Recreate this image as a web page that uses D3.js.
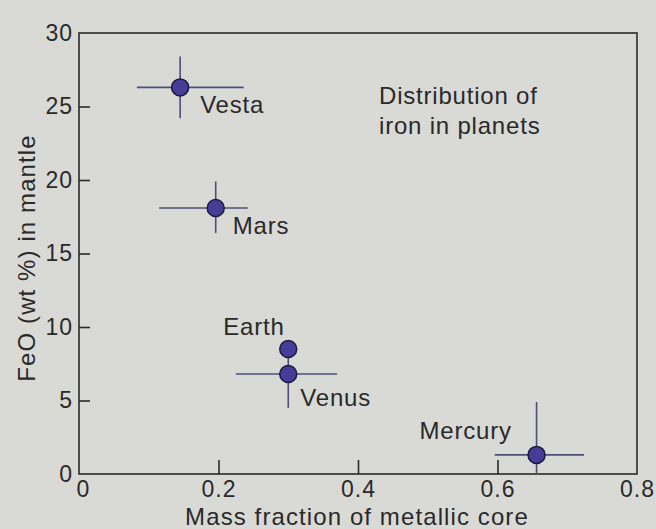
<!DOCTYPE html>
<html>
<head>
<meta charset="utf-8">
<script src="https://cdn.jsdelivr.net/npm/d3@7"></script>
<style>
  body { margin: 0; background: #d9d9d6; }
  svg { display: block; font-family: "Liberation Sans", Arial, sans-serif; }
</style>
</head>
<body>
<svg id="chart"></svg>
<script>
const planets = ["Vesta", "Mars", "Earth", "Venus", "Mercury"];
const coreFraction = [0.145, 0.196, 0.30, 0.30, 0.656];
const feo = [26.3, 18.1, 8.5, 6.8, 1.3];
const coreLow = [0.083, 0.115, null, 0.225, 0.596];
const coreHigh = [0.236, 0.242, null, 0.37, 0.724];
const feoLow = [24.2, 16.4, null, 4.5, 0];
const feoHigh = [28.4, 19.9, null, 8.3, 4.9];
const xTicks = [0, 0.2, 0.4, 0.6, 0.8];
const yTicks = [0, 5, 10, 15, 20, 25, 30];

const width = 656, height = 529;
const margin = { top: 33, right: 19, bottom: 55, left: 79 };
const ink = '#2a2a2a';

const svg = d3.select('#chart')
  .attr('width', width)
  .attr('height', height);

const x = d3.scaleLinear()
  .domain([0, 0.8])
  .range([margin.left, width - margin.right]);

const y = d3.scaleLinear()
  .domain([0, 30])
  .range([height - margin.bottom, margin.top]);

const points = planets.map((name, i) => ({
  name: name,
  x: coreFraction[i],
  y: feo[i],
  xl: coreLow[i], xh: coreHigh[i],
  yl: feoLow[i], yh: feoHigh[i]
}));

// frame
svg.append('rect')
  .attr('x', x(0))
  .attr('y', y(30))
  .attr('width', x(0.8) - x(0))
  .attr('height', y(0) - y(30))
  .attr('fill', 'none')
  .attr('stroke', ink)
  .attr('stroke-width', 1.6);

// axes with inward ticks
const xAxis = svg.append('g')
  .attr('transform', `translate(0,${y(0)})`)
  .call(d3.axisBottom(x).tickValues(xTicks).tickSizeInner(-14).tickSizeOuter(0).tickPadding(7)
    .tickFormat(d => d === 0 ? '0' : d3.format('.1f')(d)));
xAxis.select('.domain').remove();
xAxis.selectAll('line').attr('stroke', ink).attr('stroke-width', 1.6)
  .filter(d => d === 0 || d === 0.8).remove();
xAxis.selectAll('text')
  .attr('font-size', 23).attr('letter-spacing', 1).attr('fill', ink)
  .attr('font-family', '"Liberation Sans", Arial, sans-serif')
  .attr('dx', d => d === 0 ? 4 : 0);

const yAxis = svg.append('g')
  .attr('transform', `translate(${x(0)},0)`)
  .call(d3.axisLeft(y).tickValues(yTicks).tickSizeInner(-11).tickSizeOuter(0).tickPadding(6));
yAxis.select('.domain').remove();
yAxis.selectAll('line').attr('stroke', ink).attr('stroke-width', 1.6)
  .filter(d => d === 0 || d === 30).remove();
yAxis.selectAll('text')
  .attr('font-size', 23).attr('letter-spacing', 1).attr('fill', ink)
  .attr('font-family', '"Liberation Sans", Arial, sans-serif');

// error bars
const bars = svg.append('g')
  .attr('stroke', '#4e4e78')
  .attr('stroke-width', 1.6);

bars.selectAll('.hbar')
  .data(points.filter(d => d.xl !== null))
  .join('line')
  .attr('x1', d => x(d.xl))
  .attr('x2', d => x(d.xh))
  .attr('y1', d => y(d.y))
  .attr('y2', d => y(d.y));

bars.selectAll('.vbar')
  .data(points.filter(d => d.yl !== null))
  .join('line')
  .attr('x1', d => x(d.x))
  .attr('x2', d => x(d.x))
  .attr('y1', d => y(d.yl))
  .attr('y2', d => y(d.yh));

// points
svg.append('g')
  .selectAll('circle')
  .data(points)
  .join('circle')
  .attr('cx', d => x(d.x))
  .attr('cy', d => y(d.y))
  .attr('r', 8.5)
  .attr('fill', '#463d99')
  .attr('stroke', '#1e1a40')
  .attr('stroke-width', 1.5);

// labels
const labelOffset = {
  Vesta: [20, 26], Mars: [17, 26], Earth: [-65, -14],
  Venus: [12, 32], Mercury: [-117, -16]
};
svg.append('g')
  .selectAll('text')
  .data(points)
  .join('text')
  .attr('x', d => x(d.x) + labelOffset[d.name][0])
  .attr('y', d => y(d.y) + labelOffset[d.name][1])
  .attr('font-size', 24)
  .attr('letter-spacing', 0.8)
  .attr('fill', ink)
  .text(d => d.name);

svg.append('text')
  .attr('x', 379)
  .attr('y', 104)
  .attr('font-size', 24)
  .attr('letter-spacing', 0.8)
  .attr('fill', ink)
  .selectAll('tspan')
  .data(['Distribution of', 'iron in planets'])
  .join('tspan')
  .attr('x', 379)
  .attr('dy', (d, i) => i === 0 ? 0 : 30)
  .text(d => d);

// axis titles
svg.append('text')
  .attr('x', 357)
  .attr('y', 525)
  .attr('text-anchor', 'middle')
  .attr('font-size', 24)
  .attr('letter-spacing', 1.1)
  .attr('fill', ink)
  .text('Mass fraction of metallic core');

svg.append('text')
  .attr('transform', `translate(35,258) rotate(-90)`)
  .attr('text-anchor', 'middle')
  .attr('font-size', 24)
  .attr('letter-spacing', 1.1)
  .attr('fill', ink)
  .text('FeO (wt %) in mantle');
</script>
</body>
</html>
